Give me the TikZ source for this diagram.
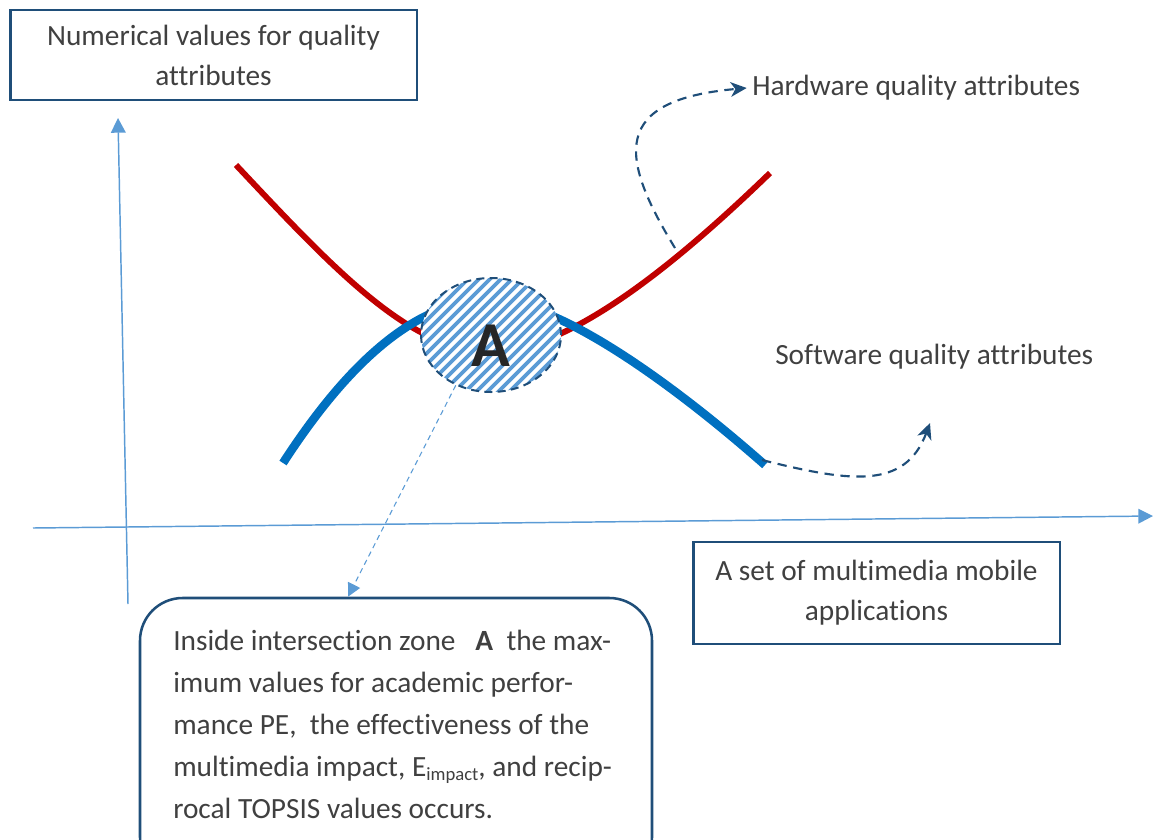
\documentclass[tikz,border=0pt]{standalone}
\usepackage{fontspec}
\setmainfont{Carlito}[Ligatures=NoCommon]
\usetikzlibrary{arrows.meta,shapes.geometric,calc}
\definecolor{dkblue}{HTML}{1F4E79}
\definecolor{ltblue}{HTML}{5B9BD5}
\definecolor{redc}{HTML}{C00000}
\definecolor{bluec}{HTML}{0070C0}
\definecolor{txt}{HTML}{404040}
\begin{document}
\begin{tikzpicture}[x=0.75pt,y=-0.75pt,
  labelbox/.style={draw=dkblue, line width=2pt, fill=white, text=txt, align=center, inner sep=0pt,
    font=\fontsize{22}{30}\selectfont},
  freetext/.style={text=txt, inner sep=0pt, font=\fontsize{22}{26}\selectfont},
  axis/.style={ltblue, line width=1.1pt, -{Triangle[length=11pt,width=11pt]}},
  flow/.style={dkblue, line width=1.6pt, dash pattern=on 7pt off 5pt, -{Stealth[length=12pt,width=11pt,inset=3.5pt]}},
  pointer/.style={ltblue, line width=0.8pt, dash pattern=on 4pt off 3pt, -{Triangle[length=10pt,width=10pt]}},
  hwcurve/.style={redc, line width=4.4pt},
  swcurve/.style={bluec, line width=6.4pt}]
\useasboundingbox (0,0) rectangle (1153,839);

% axes
\coordinate (y0) at (128,604);
\coordinate (y1) at (118,118);
\coordinate (x0) at (33,528);
\coordinate (x1) at (1153,516);
\draw[axis] (y0) -- (y1);
\draw[axis] (x0) -- (x1);

% labels boxes
\node[labelbox, minimum width=305pt, minimum height=67.5pt] (ybox) at (213.5,55)
  {Numerical values for quality\\attributes};
\node[labelbox, minimum width=275pt, minimum height=76.5pt] (xbox) at (876.5,593)
  {A set of multimedia mobile\\applications};

% curves
\draw[hwcurve] (236,165) .. controls (330,265) and (410,352) .. (490,352)
               .. controls (570,352) and (680,260) .. (770,173);
\draw[swcurve] (283,463) .. controls (340,375) and (410,300) .. (490,300)
               .. controls (560,300) and (680,390) .. (765,465);

% intersection zone
\node[ellipse, minimum width=105pt, minimum height=85.5pt, inner sep=0pt, fill=white,
  draw=dkblue, line width=1.5pt, dash pattern=on 6pt off 4pt,
  path picture={
    \foreach \i in {-200,-189,...,200}
      \draw[ltblue, line width=2.8pt, solid]
        ($(path picture bounding box.center)+(\i-100,100)$) -- ($(path picture bounding box.center)+(\i+100,-100)$);
  }] (zone) at (491,335) {};
\node[text=black!85, font=\fontsize{48}{48}\selectfont\bfseries, inner sep=0pt] (zoneA) at (491,346) {A};

% free labels
\node[freetext, anchor=west] (hw) at (752,88) {Hardware quality attributes};
\node[freetext, anchor=west] (sw) at (775,357) {Software quality attributes};
\coordinate (hwstart) at (675,248);
\coordinate (swstart) at (762,460);
\coordinate (swtip) at (930,423);
\draw[flow] (hwstart) .. controls (618,155) and (612,100) .. ([xshift=-4pt]hw.west);
\draw[flow] (swstart) .. controls (850,482) and (905,490) .. (swtip);

% callout
\node[draw=dkblue, line width=1.9pt, rounded corners=32pt, fill=white,
  minimum width=384pt, minimum height=211.5pt] (callout) at (396,739) {};
\node[anchor=north west, align=left, text=txt, inner sep=0pt,
  font=\fontsize{22}{31.5}\selectfont] (ctext) at (173,630)
  {Inside intersection zone \ \ \textbf{A} \ the max-\\
   imum values for academic perfor-\\
   mance PE, \ the effectiveness of the\\
   multimedia impact, E\raisebox{-0.25ex}{\fontsize{14}{14}\selectfont impact}, and recip-\\
   rocal TOPSIS values occurs.};
\draw[pointer] (zone.235) -- ($(callout.north)+(-48,0)$);
\end{tikzpicture}
\end{document}
